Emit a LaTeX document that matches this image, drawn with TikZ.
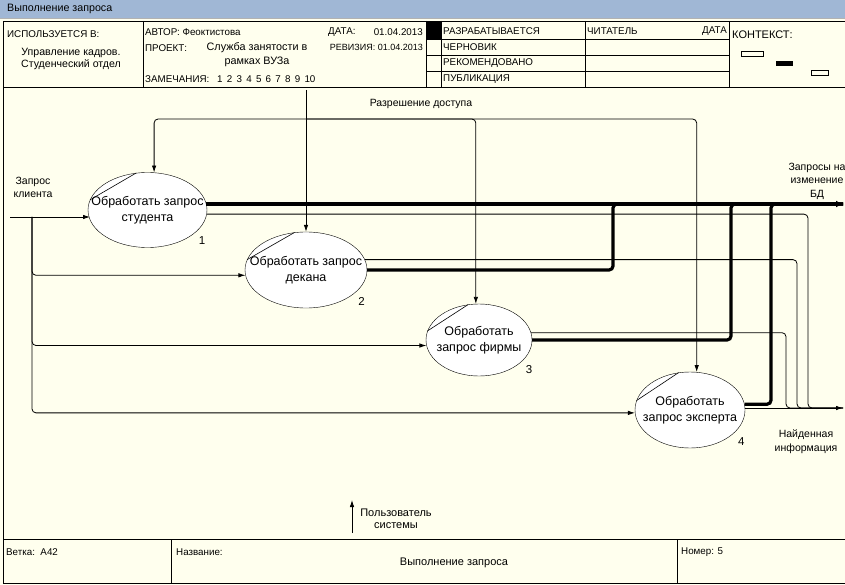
\documentclass[tikz,border=0pt]{standalone}
\usepackage{fontspec}
\setmainfont{Liberation Sans}
\usetikzlibrary{arrows.meta,calc,positioning,shapes.geometric}
\definecolor{paper}{RGB}{255,255,238}
\definecolor{bar}{RGB}{160,183,213}

\begin{document}
\begin{tikzpicture}[x=1pt, y=-1pt,
    func/.style={ellipse, draw, fill=white, inner xsep=-30pt, inner ysep=-12pt, align=center, font=\fontsize{12.5}{16}\selectfont},
    flow/.style={draw, line width=0.8pt},
    heavy/.style={draw, line width=3.2pt},
    hdr/.style={anchor=west, inner sep=0pt, font=\fontsize{9.8}{11}\selectfont},
    lbl/.style={align=center, inner sep=0pt, font=\fontsize{10.5}{13.5}\selectfont},
    num/.style={inner sep=0pt, font=\fontsize{11.5}{12}\selectfont},
    >={Latex[length=7pt,width=4.5pt]}
  ]
  \useasboundingbox (0,0) rectangle (845,585);
  \clip (0,0) rectangle (845,585);

  % sheet
  \fill[paper] (0,0) rectangle (845,585);
  \fill[bar] (0,0) rectangle (845,18);
  \draw[gray!60] (0,18.5) -- (845,18.5);
  \node (title) [hdr, font=\fontsize{10.7}{12}\selectfont] at (7,9) {Выполнение запроса};
  \draw[line width=0.8pt] (3,21) rectangle (850,583);

  % header
  \draw[line width=0.8pt] (3,87) -- (850,87);
  \foreach \x in {143,426,441,585,729}
    \draw[line width=0.8pt] (\x,21) -- (\x,87);
  \foreach \y in {39,55,71}
    \draw[line width=0.8pt] (426,\y) -- (729,\y);
  \fill (426,21) rectangle (441,39);
  \draw[line width=0.8pt] (741,51) rectangle (763,56);
  \fill (776,61) rectangle (793,66);
  \draw[line width=0.8pt] (811,70) rectangle (828,75);

  \node (used) [hdr] at (7,34) {ИСПОЛЬЗУЕТСЯ В:};
  \node (usedin) [hdr, anchor=center, align=center, font=\fontsize{10.6}{12.5}\selectfont] at (71,59) {Управление кадров.\\Студенческий отдел};
  \node (author) [hdr] at (145,32) {АВТОР: Феоктистова};
  \node (date) [hdr] at (328,32) {ДАТА:};
  \node (dateval) [hdr, anchor=east] at (423,32) {01.04.2013};
  \node (proj) [hdr] at (145,48) {ПРОЕКТ:};
  \node (projval) [hdr, anchor=center, align=center, font=\fontsize{10.8}{14}\selectfont] at (257,55) {Служба занятости в\\рамках ВУЗа};
  \node (rev) [hdr, anchor=east, font=\fontsize{9}{11}\selectfont] at (423,47) {РЕВИЗИЯ: 01.04.2013};
  \node (notes) [hdr] at (145,79) {ЗАМЕЧАНИЯ:};
  \foreach \k in {1,...,10}
    \node (note\k) [hdr] at ({217+9.7*(\k-1)},79) {\k};

  \node (work) [hdr] at (443,31) {РАЗРАБАТЫВАЕТСЯ};
  \node (reader) [hdr] at (587,31) {ЧИТАТЕЛЬ};
  \node (rdate) [hdr, anchor=east] at (727,31) {ДАТА};
  \node (draft) [hdr] at (443,47) {ЧЕРНОВИК};
  \node (recom) [hdr] at (443,63) {РЕКОМЕНДОВАНО};
  \node (publ) [hdr] at (443,79) {ПУБЛИКАЦИЯ};
  \node (ctx) [hdr, font=\fontsize{11}{12}\selectfont] at (732,35) {КОНТЕКСТ:};

  % footer
  \draw[line width=0.8pt] (3,539) -- (850,539);
  \draw[line width=0.8pt] (171,539) -- (171,583);
  \draw[line width=0.8pt] (677,539) -- (677,583);
  \node (branch) [hdr] at (6,552) {Ветка:\ \ А42};
  \node (name) [hdr] at (176,552) {Название:};
  \node (nameval) [hdr, anchor=center, font=\fontsize{11}{12}\selectfont] at (454,563) {Выполнение запроса};
  \node (number) [hdr] at (681,552) {Номер: 5};

  % functions
  \node (p1) [func, minimum width=119pt, minimum height=75pt] at (147.5,210) {Обработать запрос\\студента};
  \node (p2) [func, minimum width=122pt, minimum height=76pt] at (306,270) {Обработать запрос\\декана};
  \node (p3) [func, minimum width=106pt, minimum height=72pt] at (479,340) {Обработать\\запрос фирмы};
  \node (p4) [func, minimum width=110pt, minimum height=76pt] at (690,410) {Обработать\\запрос эксперта};
  \foreach \p in {p1,p2,p3,p4}
    \draw[line width=0.6pt] (\p.107) -- (\p.170);
  \node (n1) [num, below right=0pt and 9pt of p1.south east] {1};
  \node (n2) [num, below right=0pt and 9pt of p2.south east] {2};
  \node (n3) [num, below right=0pt and 9pt of p3.south east] {3};
  \node (n4) [num, below right=0pt and 9pt of p4.south east] {4};

  % input
  \coordinate (in) at (10,217);
  \coordinate (fork) at (32,217);
  \draw[flow,->] (in) -- (in -| p1.190);
  \draw[flow,->,rounded corners=4] (fork) |- (p2.185);
  \draw[flow,->,rounded corners=4] (fork) |- (p3.186);
  \draw[flow,->,rounded corners=4] (fork) |- (p4.183);
  \node (inlbl) [lbl] at (33,187.5) {Запрос\\клиента};

  % control
  \coordinate (ctrl) at (306,90);
  \coordinate (cj) at (306,119);
  \draw[flow,->] (ctrl) -- (p2.north);
  \draw[flow,->,rounded corners=4] (cj) -| (p1.80);
  \draw[flow,->,rounded corners=4] (cj) -| (p3.95);
  \draw[flow,->,rounded corners=4] (cj) -| (p4.80);
  \node (ctrllbl) [lbl] at (421,104) {Разрешение доступа};

  % outputs
  \coordinate (odb) at (843,204);
  \coordinate (oinf) at (843,408);
  \coordinate (j2) at (613,204);
  \coordinate (j3) at (731,204);
  \coordinate (j4) at (771,204);
  \coordinate (k1) at (808,408);
  \coordinate (k2) at (797,408);
  \coordinate (k3) at (786,408);

  \draw[heavy,rounded corners=4] (p2.east) -| (j2) -- (odb);
  \draw[heavy,rounded corners=4] (p3.east) -| (j3) -- (odb);
  \draw[heavy,rounded corners=4] (p4.6) -| (j4) -- (odb);
  \draw[heavy,-{Latex[length=7pt,width=7pt]}] (odb -| p1.6) -- (odb);

  \draw[flow,rounded corners=4] (p1.356) -| (k1) -- (oinf);
  \draw[flow,rounded corners=4] (p2.10) -| (k2) -- (oinf);
  \draw[flow,rounded corners=4] (p3.8) -| (k3) -- (oinf);
  \draw[flow,->] (oinf -| p4.2) -- (oinf);

  \node (odblbl) [lbl] at (817,181) {Запросы на\\изменение\\БД};
  \node (oinflbl) [lbl] at (806,441.5) {Найденная\\информация};

  % mechanism
  \coordinate (mech) at (352,533);
  \coordinate (mtop) at (352,500);
  \draw[flow,->] (mech) -- (mtop);
  \node (mechlbl) [lbl, font=\fontsize{11}{12}\selectfont] at (396,519) {Пользователь\\системы};
\end{tikzpicture}
\end{document}
